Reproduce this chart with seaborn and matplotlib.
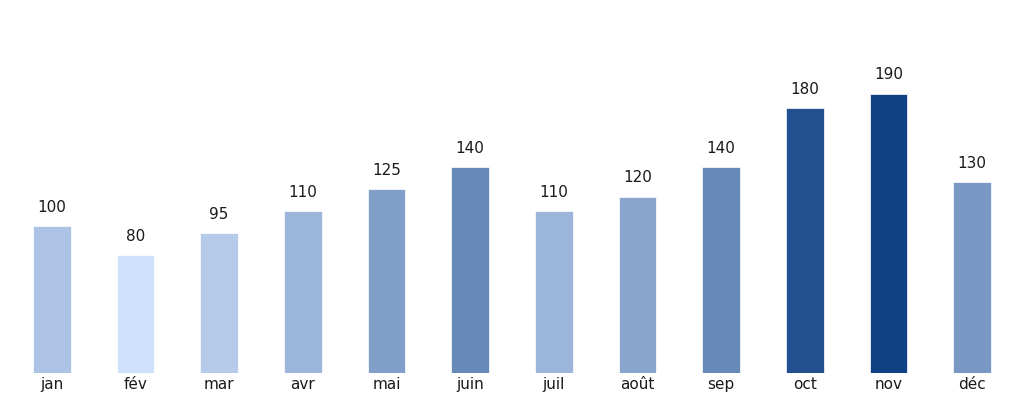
import numpy as np
import pandas as pd
import matplotlib
matplotlib.use('Agg')
import matplotlib.pyplot as plt
import seaborn as sns
from matplotlib.colors import LinearSegmentedColormap, Normalize

# monthly values
months = ['jan', 'fév', 'mar', 'avr', 'mai', 'juin', 'juil', 'août', 'sep', 'oct', 'nov', 'déc']
values = [100, 80, 95, 110, 125, 140, 110, 120, 140, 180, 190, 130]

df = pd.DataFrame({'mois': months, 'valeur': values})

# colour each bar by its value, light blue -> dark blue
cmap = LinearSegmentedColormap.from_list('blues', ['#cfe0fa', '#114185'])
norm = Normalize(vmin=min(values), vmax=max(values))
palette = {m: cmap(norm(v)) for m, v in zip(months, values)}

sns.set_style('white')
plt.rcParams['font.family'] = ['DejaVu Sans']

fig = plt.figure(figsize=(10.24, 4.04), dpi=100)
ax = fig.add_axes([0.0098, 0.0767, 0.9804, 0.9233])

sns.barplot(data=df, x='mois', y='valeur', hue='mois', palette=palette,
            saturation=1, width=0.45, legend=False, ax=ax,
            edgecolor='white', linewidth=0.5)

for i, v in enumerate(values):
    ax.annotate(str(v), (i, v), xytext=(0, 8), textcoords='offset points',
                ha='center', va='bottom', fontsize=11, color='#1a1a1a')

ax.set_xlim(-0.5, len(months) - 0.5)
ax.set_ylim(0, max(values) * 1.335)
ax.set_xlabel('')
ax.set_ylabel('')
ax.set_yticks([])
ax.tick_params(axis='x', length=0, pad=3, labelsize=11, colors='#1a1a1a')
sns.despine(ax=ax, left=True, bottom=True)

fig.savefig('out.png', dpi=100)
